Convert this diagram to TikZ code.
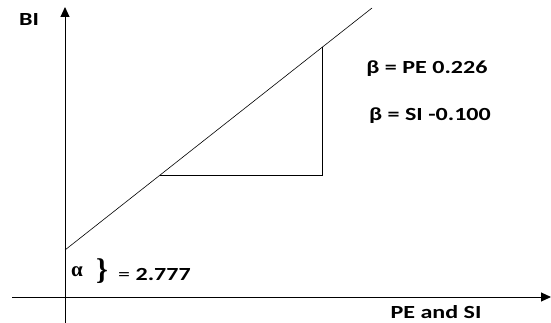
\documentclass[tikz,border=0pt]{standalone}
\usepackage{fontspec}
\setmainfont{Carlito}[FakeStretch=1.3]
\newfontfamily\greekfont{Liberation Serif}
\usetikzlibrary{arrows.meta,positioning}

\begin{document}
\begin{tikzpicture}[x=1pt,y=-1pt,
    axis/.style={line width=1pt,-{Triangle[length=10pt,width=9pt]}},
    thin line/.style={line width=0.6pt},
    lbl/.style={font=\bfseries\fontsize{18.5}{20}\selectfont,inner sep=0pt}]
  \useasboundingbox (0,0) rectangle (551,323);

  % Axes
  \coordinate (ybot) at (65,323);
  \coordinate (ytop) at (65,7);
  \coordinate (xleft) at (12,297);
  \coordinate (xright) at (551,297);
  \draw[axis] (ybot) -- (ytop);
  \draw[axis] (xleft) -- (xright);
  \node[lbl] (bi) at (29,20) {BI};
  \node[lbl] (pesi) at (436,312) {PE and SI};

  % Regression line and slope triangle
  \coordinate (start) at (65,250);
  \coordinate (stop) at (372,8);
  \draw[thin line] (start) -- (stop);
  \coordinate (tri a) at (160,175);
  \coordinate (tri b) at (322,175);
  \coordinate (tri c) at (322,47.4);
  \draw[thin line] (tri a) -- (tri b) -- (tri c);

  % Coefficients
  \node[lbl] (bpe) at (427,69) {β = PE 0.226};
  \node[lbl] (bsi) at (430,116) {β = SI -0.100};
  \node[inner sep=0pt,font=\greekfont\bfseries\fontsize{21}{21}\selectfont] (alpha) at (77,272) {α};
  \node[inner sep=0pt,font=\greekfont\bfseries\fontsize{30}{30}\selectfont] (brace) at (102,271) {\}};
  \node[inner sep=0pt,anchor=west,font=\fontsize{18.5}{20}\selectfont] (aval) at (118,274)
    {= \textbf{2.777}};
\end{tikzpicture}
\end{document}
